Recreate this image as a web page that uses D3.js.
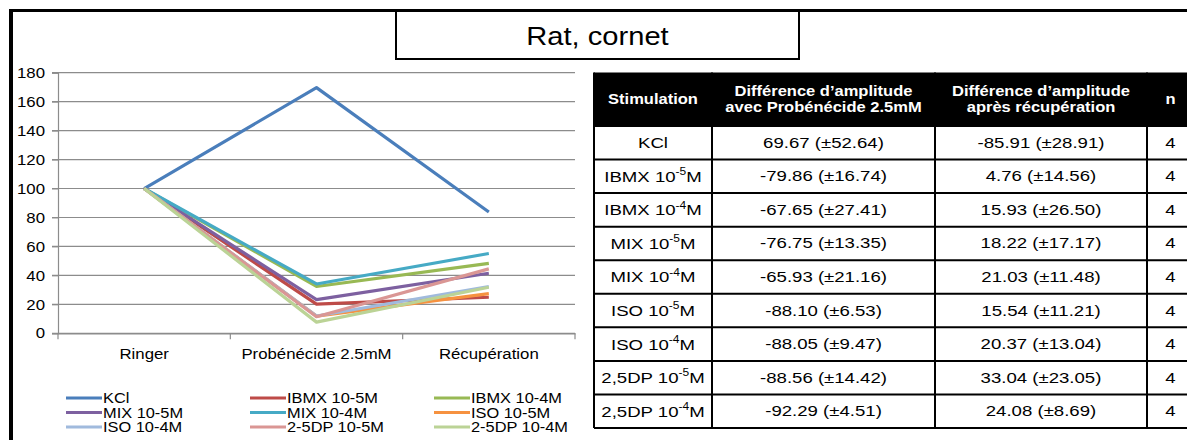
<!DOCTYPE html>
<html><head><meta charset="utf-8">
<script src="https://cdn.jsdelivr.net/npm/d3@7"></script>
<style>body{margin:0;background:#fff;}svg{display:block;font-family:"Liberation Sans",Arial,sans-serif;}</style>
</head><body>
<svg id="c" width="1187" height="440"></svg>
<script>
// ---- data ----
const title = "Rat, cornet";
const categories = ["Ringer", "Probénécide 2.5mM", "Récupération"];
const seriesNames = ["KCl","IBMX 10-5M","IBMX 10-4M","MIX 10-5M","MIX 10-4M","ISO 10-5M","ISO 10-4M","2-5DP 10-5M","2-5DP 10-4M"];
const seriesColors = ["#4A7EBB","#BE4B48","#98B954","#7D60A0","#46AAC5","#F69240","#A0BADD","#DA9694","#BBD396"];
const valKCl   = [100, 169.67, 83.76];
const valIBMX5 = [100, 20.14, 24.90];
const valIBMX4 = [100, 32.35, 48.28];
const valMIX5  = [100, 23.25, 41.47];
const valMIX4  = [100, 34.07, 55.10];
const valISO5  = [100, 11.90, 27.44];
const valISO4  = [100, 11.95, 32.32];
const valDP5   = [100, 11.44, 44.48];
const valDP4   = [100, 7.71, 31.79];
const seriesValues = [valKCl,valIBMX5,valIBMX4,valMIX5,valMIX4,valISO5,valISO4,valDP5,valDP4];
const yTicks = [0,20,40,60,80,100,120,140,160,180];

const tableHeader = ["Stimulation", ["Différence d’amplitude","avec Probénécide 2.5mM"], ["Différence d’amplitude","après récupération"], "n"];
const stimBase = ["KCl","IBMX 10","IBMX 10","MIX 10","MIX 10","ISO 10","ISO 10","2,5DP 10","2,5DP 10"];
const stimExp  = ["","-5","-4","-5","-4","-5","-4","-5","-4"];
const diffProb  = ["69.67 (±52.64)","-79.86 (±16.74)","-67.65 (±27.41)","-76.75 (±13.35)","-65.93 (±21.16)","-88.10 (±6.53)","-88.05 (±9.47)","-88.56 (±14.42)","-92.29 (±4.51)"];
const diffRecup = ["-85.91 (±28.91)","4.76 (±14.56)","15.93 (±26.50)","18.22 (±17.17)","21.03 (±11.48)","15.54 (±11.21)","20.37 (±13.04)","33.04 (±23.05)","24.08 (±8.69)"];
const nVals = [4,4,4,4,4,4,4,4,4];

// ---- drawing ----
const svg = d3.select("#c");
const SX = 1.12; // horizontal stretch of the original image text

function txt(parent, x, y, s, size, anchor, opts={}) {
  const g = parent.append("g").attr("transform", `translate(${x},${y}) scale(${opts.sx||SX},1)`);
  const t = g.append("text").attr("text-anchor", anchor).attr("dominant-baseline","central")
    .attr("font-size", size).attr("fill", opts.fill||"#000").attr("font-weight", opts.weight||"normal").text(s);
  return t;
}

// frame
svg.append("rect").attr("x",9).attr("y",9).attr("width",4).attr("height",431).attr("fill","#000");
svg.append("rect").attr("x",9).attr("y",9).attr("width",1178).attr("height",3).attr("fill","#000");

// title box
svg.append("rect").attr("x",396).attr("y",11).attr("width",403).attr("height",48)
  .attr("fill","#fff").attr("stroke","#000").attr("stroke-width",2);
txt(svg, 597.5, 36, title, 26, "middle");

// chart
const x = d3.scaleBand().domain(categories).range([58, 575]);
const y = d3.scaleLinear().domain([0,180]).range([333.3, 72.7]);
const grid = svg.append("g");
yTicks.forEach(v => {
  grid.append("line").attr("x1",52).attr("x2",575).attr("y1",y(v)).attr("y2",y(v))
    .attr("stroke","#8c8c8c").attr("stroke-width",1.2);
});
const yAxis = svg.append("g").attr("transform","translate(58,0)")
  .call(d3.axisLeft(y).tickValues(yTicks).tickSize(6).tickPadding(6));
yAxis.select(".domain").attr("stroke","#8c8c8c").attr("stroke-width",1.2);
yAxis.selectAll(".tick line").attr("stroke","#8c8c8c");
yAxis.selectAll(".tick text").remove();
yTicks.forEach(v => txt(svg, 45, y(v), String(v), 15, "end"));

const xAxis = svg.append("g").attr("transform",`translate(0,${y(0)})`)
  .call(d3.axisBottom(x).tickSize(0).tickFormat(""));
xAxis.select(".domain").attr("stroke","#8c8c8c").attr("stroke-width",1.2);
d3.range(categories.length+1).forEach(i => {
  const xx = x.range()[0] + i*x.step();
  svg.append("line").attr("x1",xx).attr("x2",xx).attr("y1",y(0)).attr("y2",y(0)+6).attr("stroke","#8c8c8c").attr("stroke-width",1.2);
});
categories.forEach(c => txt(svg, x(c)+x.bandwidth()/2, 354, c, 15, "middle"));

const line = d3.line().x((d,i)=>x(categories[i])+x.bandwidth()/2).y(d=>y(d));
seriesValues.forEach((vals,i) => {
  svg.append("path").attr("d", line(vals)).attr("fill","none")
    .attr("stroke", seriesColors[i]).attr("stroke-width",3.2).attr("stroke-linejoin","round");
});

// legend
const legCols = [66, 250, 434], legRows = [398, 412.5, 427];
seriesNames.forEach((n,i) => {
  const cx = legCols[i%3], cy = legRows[Math.floor(i/3)];
  svg.append("line").attr("x1",cx).attr("x2",cx+36).attr("y1",cy).attr("y2",cy)
    .attr("stroke",seriesColors[i]).attr("stroke-width",3.2);
  txt(svg, cx+37, cy, n, 14, "start", {sx:1.17});
});

// table
const colX = [594, 712, 935, 1147, 1194];
const headTop = 72.5, headBot = 126, rowH = (428-126)/9;
const tbl = svg.append("g");
tbl.append("rect").attr("x",colX[0]).attr("y",headTop).attr("width",colX[4]-colX[0]).attr("height",headBot-headTop).attr("fill","#000");
const HS = {fill:"#fff", weight:"bold", sx:1.18};
tableHeader.forEach((h,j) => {
  const cx = (colX[j]+colX[j+1])/2, cy = (headTop+headBot)/2;
  if (Array.isArray(h)) {
    txt(tbl, cx, cy-8, h[0], 14, "middle", HS);
    txt(tbl, cx, cy+8, h[1], 14, "middle", HS);
  } else txt(tbl, cx, cy, h, 14, "middle", HS);
});
const CS = {sx:1.2};
for (let r=0;r<9;r++){
  const cy = headBot + rowH*(r+0.5);
  const t = txt(tbl, (colX[0]+colX[1])/2, cy, "", 15.5, "middle", CS);
  t.append("tspan").text(stimBase[r]);
  if (stimExp[r]) { t.append("tspan").attr("font-size",10).attr("dy",-5).text(stimExp[r]); t.append("tspan").attr("dy",5).text("M"); }
  txt(tbl, (colX[1]+colX[2])/2, cy, diffProb[r], 15.5, "middle", CS);
  txt(tbl, (colX[2]+colX[3])/2, cy, diffRecup[r], 15.5, "middle", CS);
  txt(tbl, (colX[3]+colX[4])/2, cy, String(nVals[r]), 15.5, "middle", CS);
}
// grid lines of table
for (let r=0;r<=9;r++){
  const yy = headBot + rowH*r;
  tbl.append("line").attr("x1",colX[0]).attr("x2",colX[4]).attr("y1",yy).attr("y2",yy).attr("stroke","#000").attr("stroke-width",2);
}
colX.forEach(xx => tbl.append("line").attr("x1",xx).attr("x2",xx).attr("y1",headTop).attr("y2",428).attr("stroke","#000").attr("stroke-width",2));
</script>
</body></html>
